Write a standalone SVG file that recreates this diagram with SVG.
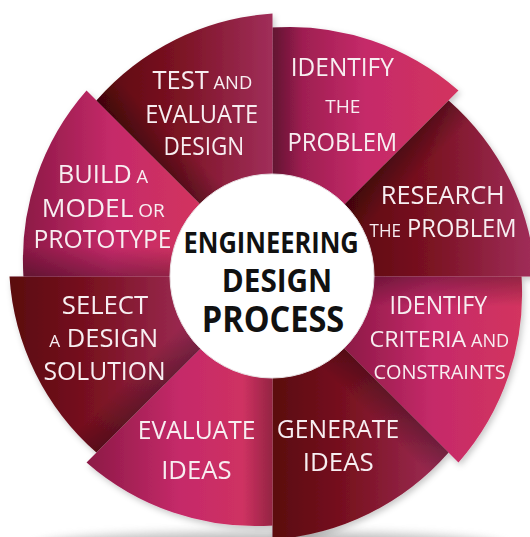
<svg xmlns="http://www.w3.org/2000/svg" width="530" height="537" viewBox="0 0 530 537">
<defs>
<style>
.lbl{font-family:"Open Sans","Noto Sans","Liberation Sans",sans-serif;fill:#f7eef1;font-size:25px;}
.sm{font-size:18px;}
.ctr{font-family:"Open Sans","Noto Sans","Liberation Sans",sans-serif;font-weight:700;fill:#111;}
.pink{fill:url(#gPink);}
.dark{fill:url(#gDark);}
</style>
<linearGradient id="gPink" x1="0" y1="0" x2="1" y2="0">
<stop offset="0" stop-color="#8c1946"/><stop offset="0.5" stop-color="#c52a69"/><stop offset="1" stop-color="#d3345f"/>
</linearGradient>
<linearGradient id="gDark" x1="0" y1="0" x2="1" y2="0">
<stop offset="0" stop-color="#5a070e"/><stop offset="0.45" stop-color="#7a1222"/><stop offset="1" stop-color="#a12e5a"/>
</linearGradient>
<linearGradient id="sh0" gradientUnits="userSpaceOnUse" x1="272.5" y1="126.5" x2="302.5" y2="126.5"><stop offset="0" stop-color="#000" stop-opacity="0.3"/><stop offset="1" stop-color="#000" stop-opacity="0"/></linearGradient>
<linearGradient id="sh1" gradientUnits="userSpaceOnUse" x1="378.57" y1="170.43" x2="399.78" y2="191.64"><stop offset="0" stop-color="#000" stop-opacity="0.3"/><stop offset="1" stop-color="#000" stop-opacity="0"/></linearGradient>
<linearGradient id="sh2" gradientUnits="userSpaceOnUse" x1="422.5" y1="276.5" x2="422.5" y2="306.5"><stop offset="0" stop-color="#000" stop-opacity="0.3"/><stop offset="1" stop-color="#000" stop-opacity="0"/></linearGradient>
<linearGradient id="sh3" gradientUnits="userSpaceOnUse" x1="378.57" y1="382.57" x2="357.36" y2="403.78"><stop offset="0" stop-color="#000" stop-opacity="0.3"/><stop offset="1" stop-color="#000" stop-opacity="0"/></linearGradient>
<linearGradient id="sh4" gradientUnits="userSpaceOnUse" x1="272.5" y1="426.5" x2="242.5" y2="426.5"><stop offset="0" stop-color="#000" stop-opacity="0.3"/><stop offset="1" stop-color="#000" stop-opacity="0"/></linearGradient>
<linearGradient id="sh5" gradientUnits="userSpaceOnUse" x1="166.43" y1="382.57" x2="145.22" y2="361.36"><stop offset="0" stop-color="#000" stop-opacity="0.3"/><stop offset="1" stop-color="#000" stop-opacity="0"/></linearGradient>
<linearGradient id="sh6" gradientUnits="userSpaceOnUse" x1="122.5" y1="276.5" x2="122.5" y2="246.5"><stop offset="0" stop-color="#000" stop-opacity="0.3"/><stop offset="1" stop-color="#000" stop-opacity="0"/></linearGradient>
<linearGradient id="sh7" gradientUnits="userSpaceOnUse" x1="166.43" y1="170.43" x2="187.64" y2="149.22"><stop offset="0" stop-color="#000" stop-opacity="0.3"/><stop offset="1" stop-color="#000" stop-opacity="0"/></linearGradient>
<filter id="drop" x="-10%" y="-10%" width="120%" height="120%"><feDropShadow dx="2" dy="3" stdDeviation="3" flood-color="#000" flood-opacity="0.22"/></filter>
<filter id="blur" x="-20%" y="-150%" width="140%" height="400%"><feGaussianBlur stdDeviation="5"/></filter>
</defs>
<rect width="530" height="537" fill="#ffffff"/>
<ellipse cx="270" cy="546" rx="235" ry="14" fill="#8a8a8a" opacity="0.55" filter="url(#blur)"/>
<g id="wheel" filter="url(#drop)">
<g id="identify-problem">
<path class="pink" d="M 272.5 176.5 L 272.5 27.5 A 256 256 0 0 1 458.47 90.53 L 343.21 205.79 A 100 100 0 0 0 272.5 176.5 Z"/>
<path fill="url(#sh0)" d="M 272.5 176.5 L 272.5 27.5 A 256 256 0 0 1 458.47 90.53 L 343.21 205.79 A 100 100 0 0 0 272.5 176.5 Z"/>
<text class="lbl" x="290.8" y="76" textLength="103" lengthAdjust="spacingAndGlyphs">IDENTIFY</text>
<text class="lbl sm" x="325.2" y="112.7" textLength="35.3" lengthAdjust="spacingAndGlyphs">THE</text>
<text class="lbl" x="287.5" y="150.7" textLength="109.7" lengthAdjust="spacingAndGlyphs">PROBLEM</text>
</g>
<g id="research-problem">
<path class="dark" d="M 343.21 205.79 L 448.57 100.43 A 256 256 0 0 1 535.5 276.5 L 372.5 276.5 A 100 100 0 0 0 343.21 205.79 Z"/>
<path fill="url(#sh1)" d="M 343.21 205.79 L 448.57 100.43 A 256 256 0 0 1 535.5 276.5 L 372.5 276.5 A 100 100 0 0 0 343.21 205.79 Z"/>
<text class="lbl" x="380.8" y="204" textLength="124" lengthAdjust="spacingAndGlyphs">RESEARCH</text>
<text class="lbl" x="369.5" y="237.3" textLength="147" lengthAdjust="spacingAndGlyphs"><tspan class="sm">THE</tspan> PROBLEM</text>
</g>
<g id="identify-criteria">
<path class="pink" d="M 372.5 276.5 L 521.5 276.5 A 256 256 0 0 1 458.47 462.47 L 343.21 347.21 A 100 100 0 0 0 372.5 276.5 Z"/>
<path fill="url(#sh2)" d="M 372.5 276.5 L 521.5 276.5 A 256 256 0 0 1 458.47 462.47 L 343.21 347.21 A 100 100 0 0 0 372.5 276.5 Z"/>
<text class="lbl" x="389.5" y="314" textLength="97.7" lengthAdjust="spacingAndGlyphs">IDENTIFY</text>
<text class="lbl" x="369.5" y="347.3" textLength="139.7" lengthAdjust="spacingAndGlyphs" style="font-size:22.5px">CRITERIA<tspan style="font-size:17.5px"> AND</tspan></text>
<text class="lbl" x="373.5" y="378.7" textLength="132.3" lengthAdjust="spacingAndGlyphs" style="font-size:19.6px">CONSTRAINTS</text>
</g>
<g id="generate-ideas">
<path class="dark" d="M 343.21 347.21 L 448.57 452.57 A 256 256 0 0 1 272.5 539.5 L 272.5 376.5 A 100 100 0 0 0 343.21 347.21 Z"/>
<path fill="url(#sh3)" d="M 343.21 347.21 L 448.57 452.57 A 256 256 0 0 1 272.5 539.5 L 272.5 376.5 A 100 100 0 0 0 343.21 347.21 Z"/>
<text class="lbl" x="276.8" y="438" textLength="122.4" lengthAdjust="spacingAndGlyphs">GENERATE</text>
<text class="lbl" x="302.8" y="470.7" textLength="71" lengthAdjust="spacingAndGlyphs">IDEAS</text>
</g>
<g id="evaluate-ideas">
<path class="pink" d="M 272.5 376.5 L 272.5 525.5 A 256 256 0 0 1 86.53 462.47 L 201.79 347.21 A 100 100 0 0 0 272.5 376.5 Z"/>
<path fill="url(#sh4)" d="M 272.5 376.5 L 272.5 525.5 A 256 256 0 0 1 86.53 462.47 L 201.79 347.21 A 100 100 0 0 0 272.5 376.5 Z"/>
<text class="lbl" x="137.8" y="438.7" textLength="117.7" lengthAdjust="spacingAndGlyphs">EVALUATE</text>
<text class="lbl" x="161.2" y="478.7" textLength="70.3" lengthAdjust="spacingAndGlyphs">IDEAS</text>
</g>
<g id="select-solution">
<path class="dark" d="M 201.79 347.21 L 96.43 452.57 A 256 256 0 0 1 9.5 276.5 L 172.5 276.5 A 100 100 0 0 0 201.79 347.21 Z"/>
<path fill="url(#sh5)" d="M 201.79 347.21 L 96.43 452.57 A 256 256 0 0 1 9.5 276.5 L 172.5 276.5 A 100 100 0 0 0 201.79 347.21 Z"/>
<text class="lbl" x="61.8" y="314" textLength="86.4" lengthAdjust="spacingAndGlyphs">SELECT</text>
<text class="lbl" x="49.2" y="347.3" textLength="109" lengthAdjust="spacingAndGlyphs"><tspan style="font-size:17px">A</tspan> DESIGN</text>
<text class="lbl" x="43.5" y="379.7" textLength="122" lengthAdjust="spacingAndGlyphs">SOLUTION</text>
</g>
<g id="build-model">
<path class="pink" d="M 172.5 276.5 L 23.5 276.5 A 256 256 0 0 1 86.53 90.53 L 201.79 205.79 A 100 100 0 0 0 172.5 276.5 Z"/>
<path fill="url(#sh6)" d="M 172.5 276.5 L 23.5 276.5 A 256 256 0 0 1 86.53 90.53 L 201.79 205.79 A 100 100 0 0 0 172.5 276.5 Z"/>
<text class="lbl" x="57.8" y="182.7" textLength="90.4" lengthAdjust="spacingAndGlyphs">BUILD<tspan class="sm"> A</tspan></text>
<text class="lbl" x="41.8" y="217.3" textLength="123" lengthAdjust="spacingAndGlyphs">MODEL<tspan class="sm"> OR</tspan></text>
<text class="lbl" x="33.5" y="248.3" textLength="138" lengthAdjust="spacingAndGlyphs">PROTOTYPE</text>
</g>
<g id="test-evaluate">
<path class="dark" d="M 201.79 205.79 L 96.43 100.43 A 256 256 0 0 1 272.5 13.5 L 272.5 176.5 A 100 100 0 0 0 201.79 205.79 Z"/>
<path fill="url(#sh7)" d="M 201.79 205.79 L 96.43 100.43 A 256 256 0 0 1 272.5 13.5 L 272.5 176.5 A 100 100 0 0 0 201.79 205.79 Z"/>
<text class="lbl" x="152.5" y="89.3" textLength="99.7" lengthAdjust="spacingAndGlyphs">TEST<tspan class="sm"> AND</tspan></text>
<text class="lbl" x="145.2" y="122.7" textLength="113" lengthAdjust="spacingAndGlyphs">EVALUATE</text>
<text class="lbl" x="163.5" y="155.3" textLength="80.7" lengthAdjust="spacingAndGlyphs">DESIGN</text>
</g>
</g>
<g id="center">
<circle cx="272" cy="276" r="102" fill="#ffffff" stroke="#e9e1e4" stroke-width="1"/>
<text class="ctr" x="183.5" y="253.3" font-size="29" textLength="175.3" lengthAdjust="spacingAndGlyphs">ENGINEERING</text>
<text class="ctr" x="221.8" y="292.3" font-size="32" textLength="110.4" lengthAdjust="spacingAndGlyphs">DESIGN</text>
<text class="ctr" x="201.8" y="331.7" font-size="35" textLength="142.4" lengthAdjust="spacingAndGlyphs">PROCESS</text>
</g>
</svg>
